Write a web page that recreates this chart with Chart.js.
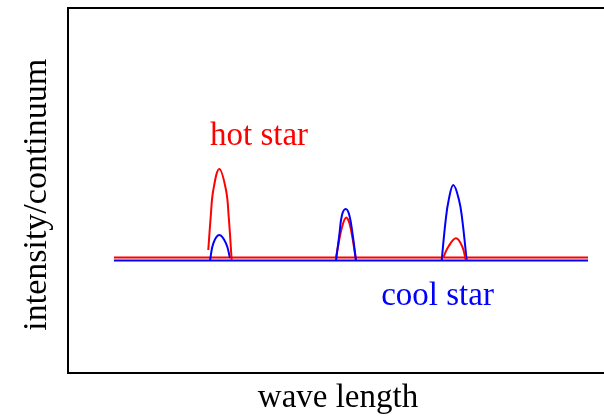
<!DOCTYPE html>
<html>
<head>
<meta charset="utf-8">
<script src="https://cdn.jsdelivr.net/npm/chart.js@4/dist/chart.umd.min.js"></script>
<style>
  html, body { margin: 0; padding: 0; background: #fff; overflow: hidden; }
  #wrap { width: 610px; height: 418px; }
</style>
</head>
<body>
<div id="wrap"><canvas id="grafico"></canvas></div>
<script>
// continuum (baseline) from end to end of the spectrum
const baseX = [0.85, 9.63];
const hotBase = [1.013, 1.013];
const coolBase = [0.986, 0.986];

// emission lines, [wavelength, intensity]
const hotLine1 = [[2.598, 1.078], [2.643, 1.37], [2.691, 1.604], [2.802, 1.789], [2.926, 1.604], [2.976, 1.37], [3.031, 0.991]];
const hotLine2 = [[4.963, 1.013], [5.006, 1.122], [5.069, 1.269], [5.148, 1.362], [5.22, 1.30], [5.333, 0.991]];
const hotLine3 = [[6.95, 1.013], [7.043, 1.107], [7.185, 1.181], [7.302, 1.107], [7.365, 0.991]];

const coolLine1 = [[2.63, 0.986], [2.691, 1.137], [2.802, 1.21], [2.926, 1.137], [3.0, 1.008]];
const coolLine2 = [[4.963, 0.986], [5.024, 1.21], [5.074, 1.385], [5.143, 1.438], [5.209, 1.385], [5.272, 1.21], [5.333, 0.986]];
const coolLine3 = [[6.92, 0.986], [6.994, 1.341], [7.05, 1.517], [7.135, 1.648], [7.241, 1.517], [7.302, 1.341], [7.383, 0.986]];

const etiquetas = [
  { text: "hot star", x: 2.63, y: 2.0, color: "#ff0000" },
  { text: "cool star", x: 5.8, y: 0.596, color: "#0000ff" }
];

const fonte = "'Liberation Serif', 'Times New Roman', serif";
const tamanho = 33;
const vermelho = "#ff0000";
const azul = "#0000ff";

const pts = arr => arr.map(([x, y]) => ({ x, y }));
const linha = (data, cor) => ({
  data,
  borderColor: cor,
  borderWidth: 2,
  pointRadius: 0,
  showLine: true,
  tension: 0.4,
  fill: false
});

// frame round the plot area and the in-plot labels
const moldura = {
  id: "moldura",
  afterDatasetsDraw(chart) {
    const { ctx, chartArea: a, scales } = chart;
    ctx.save();
    ctx.strokeStyle = "#000";
    ctx.lineWidth = 2;
    ctx.strokeRect(a.left, a.top, a.right - a.left, a.bottom - a.top);
    ctx.font = tamanho + "px " + fonte;
    ctx.textBaseline = "alphabetic";
    ctx.textAlign = "left";
    etiquetas.forEach(e => {
      ctx.fillStyle = e.color;
      ctx.fillText(e.text, scales.x.getPixelForValue(e.x), scales.y.getPixelForValue(e.y));
    });
    ctx.restore();
  }
};

const ctx = document.getElementById("grafico").getContext("2d");
new Chart(ctx, {
  type: "scatter",
  data: {
    datasets: [
      linha(pts(coolLine2), azul),
      linha(pts(hotLine3), vermelho),
      linha(pts(hotLine1), vermelho),
      linha(pts(hotLine2), vermelho),
      linha(pts(coolLine1), azul),
      linha(pts(coolLine3), azul),
      linha(baseX.map((x, i) => ({ x, y: hotBase[i] })), vermelho),
      linha(baseX.map((x, i) => ({ x, y: coolBase[i] })), azul)
    ]
  },
  options: {
    responsive: true,
    maintainAspectRatio: false,
    animation: false,
    layout: { padding: { left: 16.6, top: 8, right: 2, bottom: 0 } },
    plugins: { legend: { display: false }, tooltip: { enabled: false } },
    scales: {
      x: {
        type: "linear",
        min: 0,
        max: 10,
        grid: { display: false, drawTicks: false },
        border: { display: false },
        ticks: { display: false },
        title: {
          display: true,
          text: "wave length",
          color: "#000",
          font: { family: fonte, size: tamanho },
          padding: { top: 5.4, bottom: 0 }
        }
      },
      y: {
        type: "linear",
        min: 0,
        max: 3.2,
        grid: { display: false, drawTicks: false },
        border: { display: false },
        ticks: { display: false },
        title: {
          display: true,
          text: "intensity/continuum\u00a0",
          color: "#000",
          font: { family: fonte, size: 34 },
          padding: { top: 0, bottom: 10.6 }
        }
      }
    }
  },
  plugins: [moldura]
});
</script>
</body>
</html>
